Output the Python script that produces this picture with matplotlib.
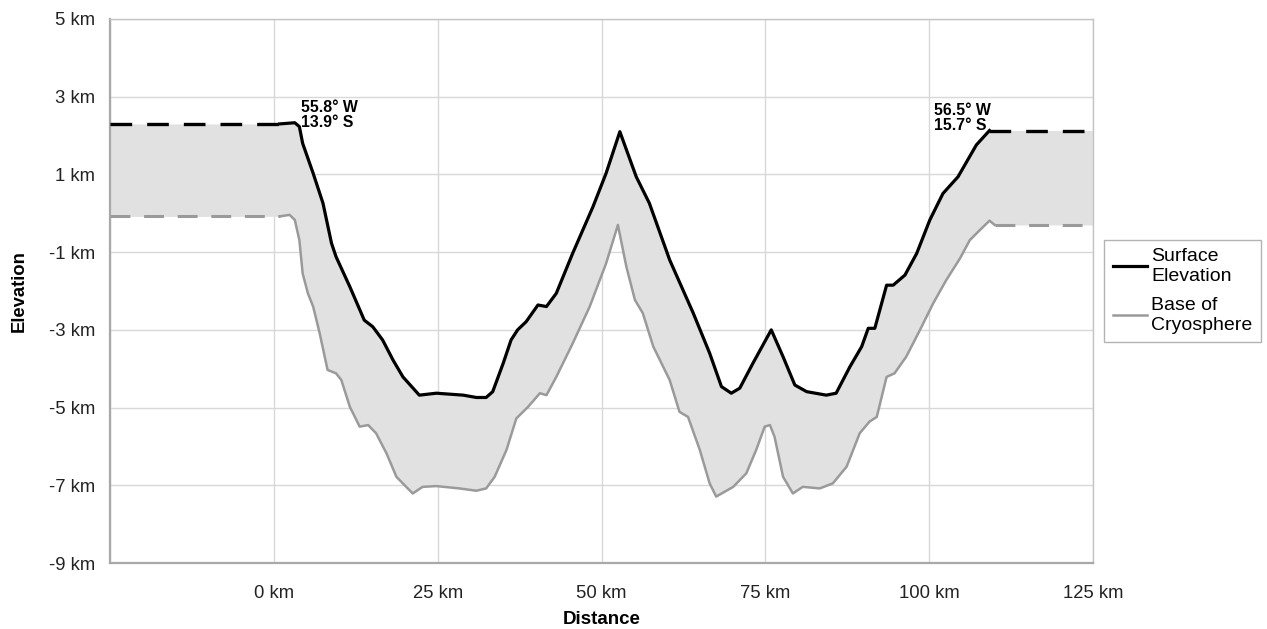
import matplotlib
matplotlib.use("Agg")
import matplotlib.pyplot as plt
import numpy as np

plt.rcParams['font.family'] = ['Liberation Sans', 'DejaVu Sans']

# Surface elevation profile (km)
surf_x = [0.9, 3.2, 3.9, 4.4, 6.0, 7.5, 8.8, 9.5, 11.6, 13.8, 15.1, 16.6, 18.2, 19.7,
          22.2, 24.8, 28.9, 30.9, 32.4, 33.4, 35.0, 36.2, 37.2, 38.5, 40.3, 41.6, 43.1,
          45.6, 48.7, 50.7, 52.8, 55.3, 57.3, 60.4, 64.0, 66.5, 68.3, 69.8, 71.1, 73.1,
          75.9, 77.7, 79.5, 81.3, 84.3, 85.8, 87.9, 89.7, 90.7, 91.7, 93.5, 94.5, 96.3,
          98.1, 100.1, 102.1, 104.4, 107.2, 109.2]
surf_y = [2.30, 2.33, 2.23, 1.80, 1.03, 0.26, -0.77, -1.12, -1.89, -2.75, -2.92, -3.26,
          -3.78, -4.21, -4.68, -4.63, -4.68, -4.74, -4.74, -4.59, -3.86, -3.26, -3.00,
          -2.79, -2.36, -2.40, -2.06, -1.03, 0.17, 1.03, 2.10, 0.94, 0.26, -1.20, -2.57,
          -3.60, -4.46, -4.63, -4.50, -3.86, -3.00, -3.69, -4.42, -4.59, -4.68, -4.63,
          -3.95, -3.43, -2.96, -2.96, -1.85, -1.85, -1.59, -1.03, -0.17, 0.51, 0.94,
          1.76, 2.13]

# Base of cryosphere profile (km)
base_x = [0.9, 2.4, 3.2, 3.9, 4.4, 5.2, 6.0, 7.0, 8.2, 9.5, 10.3, 11.6, 13.1, 14.4,
          15.6, 17.2, 18.7, 20.2, 21.2, 22.7, 24.8, 28.3, 30.9, 32.4, 33.7, 35.5, 37.0,
          38.8, 40.6, 41.6, 43.1, 45.6, 48.2, 50.7, 52.5, 53.8, 55.1, 56.3, 57.9, 60.4,
          61.9, 63.2, 65.0, 66.5, 67.5, 70.1, 72.1, 73.6, 74.9, 75.7, 76.4, 77.7, 79.2,
          80.7, 83.3, 85.3, 87.4, 89.4, 90.9, 92.0, 93.5, 94.7, 96.5, 98.6, 100.6,
          102.6, 104.7, 106.2, 107.5, 109.2, 110.0]
base_y = [-0.08, -0.04, -0.17, -0.69, -1.55, -2.06, -2.40, -3.09, -4.03, -4.12, -4.29,
          -4.98, -5.49, -5.45, -5.66, -6.18, -6.78, -7.04, -7.21, -7.04, -7.02, -7.08,
          -7.14, -7.08, -6.78, -6.09, -5.28, -4.98, -4.63, -4.68, -4.21, -3.35, -2.40,
          -1.29, -0.30, -1.38, -2.23, -2.57, -3.43, -4.29, -5.11, -5.24, -6.09, -6.95,
          -7.29, -7.04, -6.69, -6.09, -5.49, -5.45, -5.75, -6.78, -7.21, -7.04, -7.08,
          -6.95, -6.52, -5.66, -5.36, -5.24, -4.21, -4.12, -3.69, -3.00, -2.32, -1.72,
          -1.16, -0.69, -0.47, -0.19, -0.30]

x_min, x_max = -25, 125
y_ticks = [-9, -7, -5, -3, -1, 1, 3, 5]
x_ticks = [-25, 0, 25, 50, 75, 100, 125]
x_labels = ["", "0 km", "25 km", "50 km", "75 km", "100 km", "125 km"]

fig = plt.figure(figsize=(12.67, 6.29), dpi=100)
ax = fig.add_axes([0.0868, 0.1049, 0.7759, 0.8649])

sx = np.array(surf_x); sy = np.array(surf_y)
bx = np.array(base_x); by = np.array(base_y)
sx_full = np.concatenate([[x_min], sx, [x_max]])
sy_full = np.concatenate([[sy[0]], sy, [sy[-1]]])
bx_full = np.concatenate([[x_min], bx, [x_max]])
by_full = np.concatenate([[by[0]], by, [by[-1]]])

grid = np.union1d(sx_full, bx_full)
top = np.interp(grid, sx_full, sy_full)
bot = np.interp(grid, bx_full, by_full)
ax.fill_between(grid, bot, top, color='#e1e1e1', lw=0, zorder=1)

dash = (0, (6.5, 4.5))
ax.plot([x_min, sx[0]], [sy[0], sy[0]], color='black', lw=2.4, ls=dash, zorder=3)
ax.plot([sx[-1], x_max], [sy[-1], sy[-1]], color='black', lw=2.4, ls=dash, zorder=3)
ax.plot([x_min, bx[0]], [by[0], by[0]], color='#9a9a9a', lw=2.2, ls=dash, zorder=3)
ax.plot([bx[-1], x_max], [by[-1], by[-1]], color='#9a9a9a', lw=2.2, ls=dash, zorder=3)

ax.plot(sx, sy, color='black', lw=2.3, label='Surface\nElevation', zorder=4,
        solid_joinstyle='round')
ax.plot(bx, by, color='#9a9a9a', lw=1.8, label='Base of\nCryosphere', zorder=3,
        solid_joinstyle='round')

ax.set_xlim(x_min, x_max)
ax.set_ylim(-9, 5)
ax.set_yticks(y_ticks)
ax.set_yticklabels([f"{v} km" for v in y_ticks])
ax.set_xticks(x_ticks)
ax.set_xticklabels(x_labels)
ax.tick_params(axis='both', length=0, labelsize=13.3, colors='#222222')
ax.tick_params(axis='x', pad=15.5)
ax.tick_params(axis='y', pad=10.5)
ax.grid(True, color='#d8d8d8', lw=1.0, zorder=0)
ax.set_axisbelow(True)
for side in ['left', 'bottom']:
    ax.spines[side].set_color('#a8a8a8')
    ax.spines[side].set_linewidth(1.6)
for side in ['top', 'right']:
    ax.spines[side].set_color('#c4c4c4')
    ax.spines[side].set_linewidth(1.0)

ax.set_xlabel('Distance', fontsize=13.5, fontweight='bold', labelpad=7)
ax.set_ylabel('Elevation', fontsize=13.3, fontweight='bold', labelpad=15)

ax.text(4.2, 2.92, '55.8° W\n13.9° S', fontsize=11.4, fontweight='bold', ha='left', va='top',
        linespacing=1.0, zorder=5)
ax.text(100.7, 2.84, '56.5° W\n15.7° S', fontsize=11.4, fontweight='bold', ha='left', va='top',
        linespacing=1.0, zorder=5)

leg = ax.legend(loc='center left', bbox_to_anchor=(1.0115, 0.50), fontsize=14, frameon=True,
                fancybox=False, edgecolor='#a0a0a0', handlelength=1.75, handletextpad=0.25,
                borderpad=0.42, labelspacing=0.62, borderaxespad=0)
leg.get_frame().set_linewidth(1.0)

fig.savefig('out.png', dpi=100)
